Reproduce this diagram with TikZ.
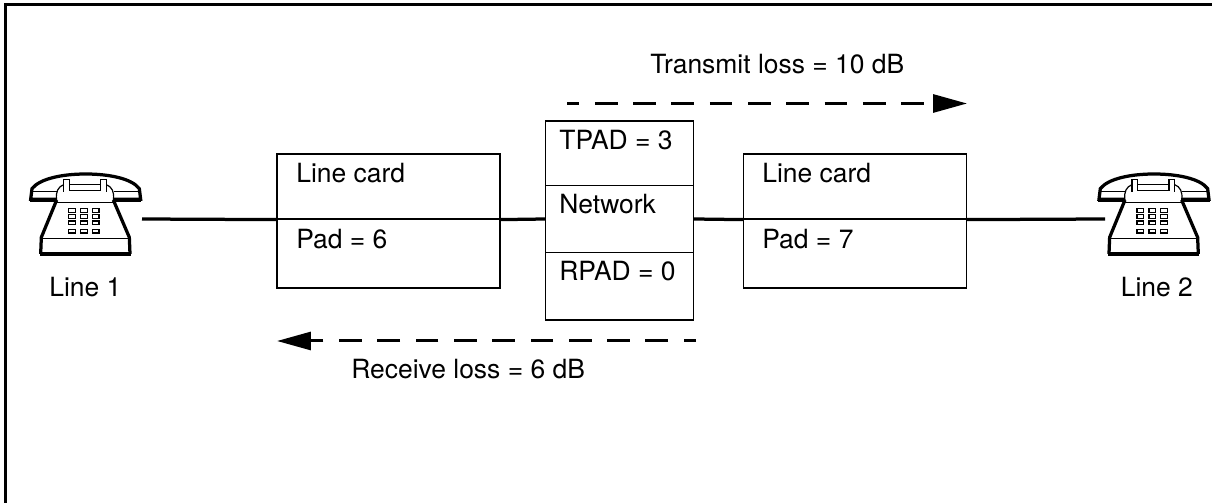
\documentclass[tikz,border=0pt]{standalone}
\usepackage{fontspec}
\setmainfont{TeX Gyre Heros}
\usetikzlibrary{arrows.meta}
\tikzset{
	padbox/.style={draw,line width=0.025cm,minimum width=#1,inner sep=0pt},
	boxtext/.style={anchor=base west,inner sep=0pt,font=\fontsize{15.05pt}{18pt}\selectfont},
	wire/.style={line width=0.065cm},
	lossline/.style={line width=0.06cm,dash pattern=on 0.454cm off 0.312cm,dash phase=0.208cm,-{Triangle[length=0.68cm,width=0.36cm]}},
	phonethin/.style={line width=0.024cm},
	phonethick/.style={line width=0.065cm,line join=miter},
	telephone/.pic={
		\begin{scope}[xscale=1/3,yscale=-1/3]
		\draw [phonethick] (110,148)--(32,148)--(36,116) .. controls (60,85) and (130,72) .. (197,72) .. controls (265,72) and (335,85) .. (358,116)--(362,148)--(280,148); %受話器
		\draw [line width=0.08cm] (30,149)--(110,149) (280,149)--(364,149);
		\draw [phonethin] (38,125)--(110,125) (282,125)--(356,125);
		\draw [phonethin] (110,150) .. controls (106,125) and (115,110) .. (131,104);
		\draw [phonethin] (280,150) .. controls (284,125) and (275,110) .. (259,104);
		\draw [phonethin] (131,125)--(131,88)--(148,88)--(148,122)--(242,122)--(242,88)--(259,88)--(259,125);
		\draw [phonethin] (148,104)--(242,104);
		\draw [phonethin] (110,157)--(280,157) (62,265)--(330,265);
		\draw [phonethick] (110,150)--(64,262)--(62,312);
		\draw [phonethick] (280,150)--(328,262)--(330,312);
		\draw [line width=0.085cm] (60,313)--(332,313);
		\foreach \keyx in {146,182,217}
			\foreach \keyy in {176,194,213,238}
				\draw [phonethin] (\keyx,\keyy) rectangle +(20,11); %ボタン
		\end{scope}
	}
}
\begin{document}
\begin{tikzpicture}[x=0.02cm,y=0.02cm]
		\useasboundingbox (0,0) rectangle (1212,503);

		\coordinate (framea) at (5.5,0);
		\coordinate (frameb) at (5.5,498.2);
		\coordinate (framec) at (1212,498.2);
		\draw [line width=0.06cm] (framea)--(frameb)--(framec);

		\pic at (20,353) {telephone};
		\pic at (1088.3,353) {telephone};
		\coordinate (jackone) at (142,284);
		\coordinate (jacktwo) at (1105,284);

		\node (cardonetop) [padbox=223*0.02cm,minimum height=1.3cm] at (388.5,316.5) {};
		\node (cardonebot) [padbox=223*0.02cm,minimum height=1.38cm] at (388.5,249.5) {};
		\node (nettop) [padbox=148*0.02cm,minimum height=1.29cm] at (619.5,349.75) {};
		\node (netmid) [padbox=148*0.02cm,minimum height=1.34cm] at (619.5,284) {};
		\node (netbot) [padbox=148*0.02cm,minimum height=1.35cm] at (619.5,216.75) {};
		\node (cardtwotop) [padbox=223*0.02cm,minimum height=1.3cm] at (855,316.5) {};
		\node (cardtwobot) [padbox=223*0.02cm,minimum height=1.38cm] at (855,249.5) {};

		\node (cardonename) [boxtext] at (296,320) {Line card};
		\node (cardonepad) [boxtext] at (296,254) {Pad = 6};
		\node (nettpad) [boxtext] at (559,353.5) {TPAD = 3};
		\node (netname) [boxtext] at (559,289) {Network};
		\node (netrpad) [boxtext] at (559,222) {RPAD = 0};
		\node (cardtwoname) [boxtext] at (762,320) {Line card};
		\node (cardtwopad) [boxtext] at (762,254) {Pad = 7};
		\node (lineone) [boxtext] at (49,206) {Line 1};
		\node (linetwo) [boxtext] at (1120.5,206) {Line 2};
		\node (transmit) [boxtext] at (650,429) {Transmit loss = 10 dB};
		\node (receive) [boxtext] at (351,124.5) {Receive loss = 6 dB};

		\draw [wire] (jackone)--(cardonetop.south west);
		\draw [wire] (cardonetop.south east)--(netmid.west);
		\draw [wire] (netmid.east)--(cardtwotop.south west);
		\draw [wire] (cardtwotop.south east)--(jacktwo);

		\coordinate (transa) at (567,399.5);
		\coordinate (transb) at (967,399.5);
		\coordinate (reca) at (696,162);
		\coordinate (recb) at (277,162);
		\draw [lossline] (transa)--(transb);
		\draw [lossline] (reca)--(recb);
\end{tikzpicture}
\end{document}
